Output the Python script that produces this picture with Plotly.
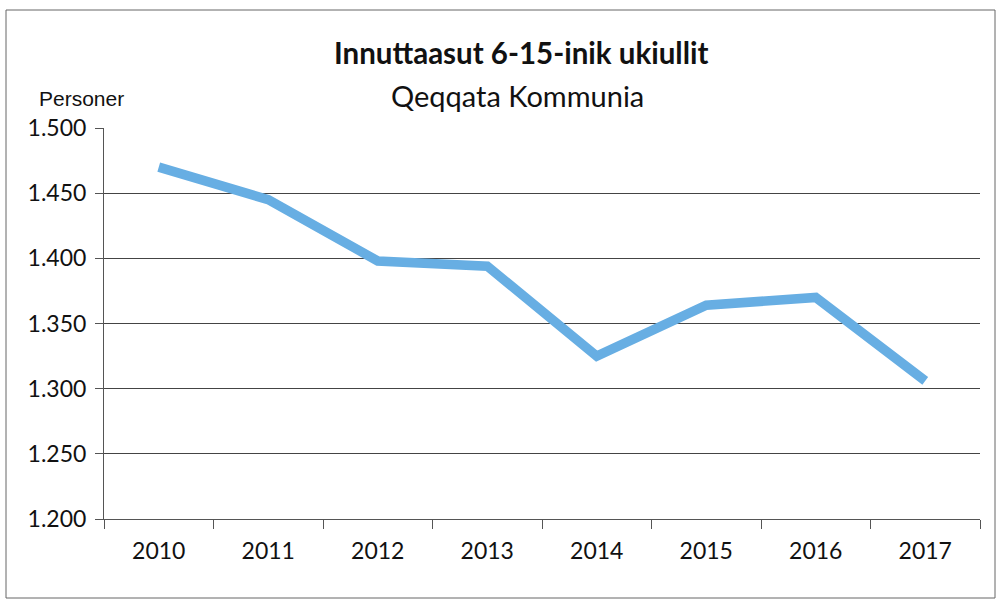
import plotly.graph_objects as go

years = ["2010", "2011", "2012", "2013", "2014", "2015", "2016", "2017"]
persons = [1470, 1445, 1398, 1394, 1325, 1364, 1370, 1306]
y_tick_vals = [1200, 1250, 1300, 1350, 1400, 1450, 1500]
y_tick_text = ["1.200", "1.250", "1.300", "1.350", "1.400", "1.450", "1.500"]

FONT = "Lato"

fig = go.Figure()
fig.add_trace(go.Scatter(
    x=years, y=persons, mode="lines",
    line=dict(color="#67aee3", width=9.5),
    showlegend=False, hoverinfo="skip",
))

W, H = 997, 600
L, R, T, B = 104, 17, 128, 81
pw, ph = W - L - R, H - T - B

def px_x(p):
    return (p - L) / pw

def px_y(p):
    return (H - B - p) / ph

fig.update_layout(
    width=W, height=H,
    margin=dict(l=L, r=R, t=T, b=B),
    paper_bgcolor="white", plot_bgcolor="white",
    font=dict(family=FONT, color="#111"),
    xaxis=dict(
        type="category", tickson="boundaries", ticks="outside", ticklen=9,
        tickcolor="#555", showgrid=False, showline=True, linecolor="#555",
        linewidth=1, tickfont=dict(size=23, family=FONT, color="#111"),
        range=[-0.5, 7.5], ticklabelstandoff=11,
    ),
    yaxis=dict(
        range=[1200, 1500], tickvals=y_tick_vals, ticktext=y_tick_text,
        ticks="outside", ticklen=8, tickcolor="#555",
        showgrid=True, gridcolor="#444", gridwidth=1,
        showline=True, linecolor="#555", linewidth=1, zeroline=False,
        tickfont=dict(size=23, family=FONT, color="#111"),
        ticklabelstandoff=4,
    ),
    shapes=[dict(
        type="rect", xref="paper", yref="paper",
        x0=px_x(6), x1=px_x(995), y0=px_y(598), y1=px_y(10),
        line=dict(color="#666", width=1), fillcolor="rgba(0,0,0,0)",
    )],
    annotations=[
        dict(text="<b>Innuttaasut 6-15-inik ukiullit</b>", xref="paper", yref="paper",
             x=px_x(521), y=px_y(52), xanchor="center", yanchor="middle",
             showarrow=False, font=dict(size=29.5, family=FONT, color="#111")),
        dict(text="Qeqqata Kommunia", xref="paper", yref="paper",
             x=px_x(517), y=px_y(95), xanchor="center", yanchor="middle",
             showarrow=False, font=dict(size=29, family=FONT, color="#111")),
        dict(text="Personer", xref="paper", yref="paper",
             x=px_x(37), y=px_y(98), xanchor="left", yanchor="middle",
             showarrow=False, font=dict(size=21, family="Liberation Sans", color="#111")),
    ],
)

fig.write_html("out.html", config={"displayModeBar": False},
               post_script="document.body.style.margin='0';")
